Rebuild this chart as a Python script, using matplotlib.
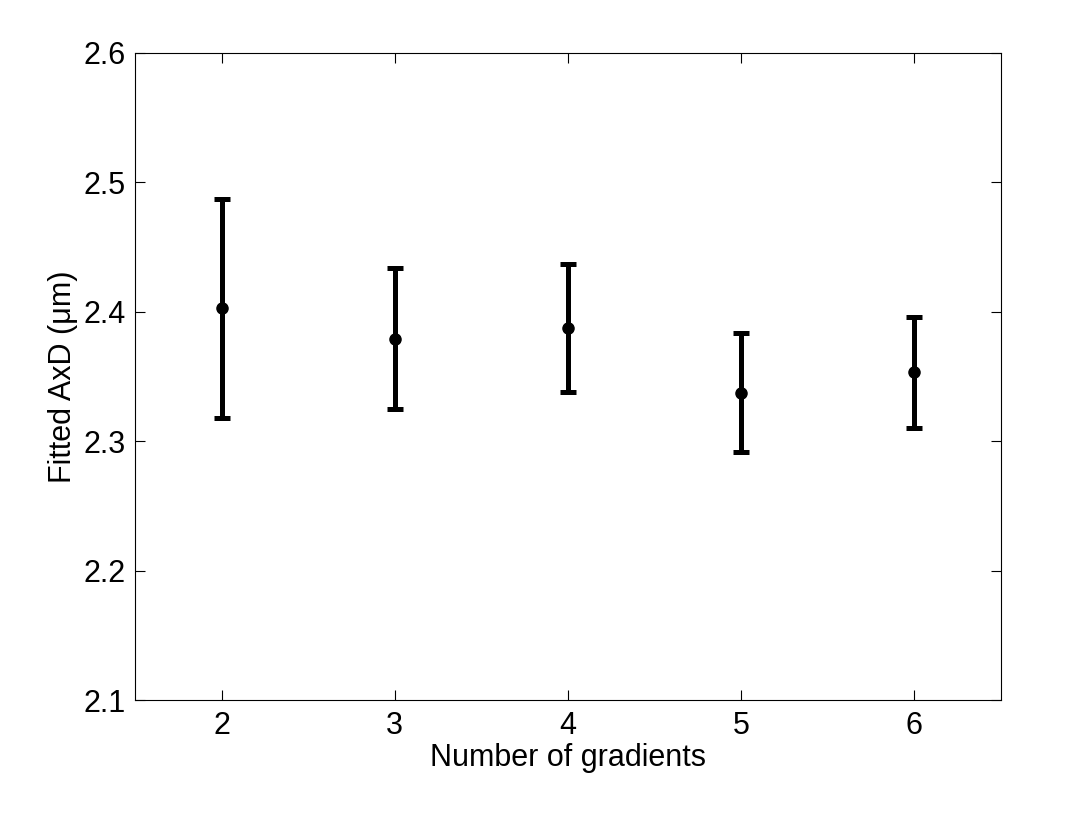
import matplotlib
matplotlib.use("Agg")
import matplotlib.pyplot as plt

plt.rcParams['font.family'] = ['Liberation Sans', 'DejaVu Sans']

gradients = [2, 3, 4, 5, 6]
axd_mean = [2.4027, 2.3789, 2.3872, 2.3370, 2.3533]
axd_upper = [2.4870, 2.4336, 2.4367, 2.3834, 2.3958]
axd_lower = [2.3180, 2.3246, 2.3377, 2.2914, 2.3100]

err_low = [m - l for m, l in zip(axd_mean, axd_lower)]
err_high = [u - m for m, u in zip(axd_mean, axd_upper)]

fig = plt.figure(figsize=(10.77, 8.15), dpi=100)
ax = fig.add_axes([0.1253, 0.1411, 0.8041, 0.7939])
ax.errorbar(gradients, axd_mean, yerr=[err_low, err_high], fmt='o', color='black',
            ecolor='black', elinewidth=3.6, capsize=5.5, capthick=3.6, markersize=8)
ax.set_xlim(1.5, 6.5)
ax.set_ylim(2.1, 2.6)
ax.set_xticks(gradients)
ax.set_yticks([2.1, 2.2, 2.3, 2.4, 2.5, 2.6])
ax.set_yticklabels(['2.1', '2.2', '2.3', '2.4', '2.5', '2.6'])
ax.tick_params(direction='in', top=True, right=True, labelsize=22, length=7, width=0.8)
ax.tick_params(axis='x', pad=8)
ax.tick_params(axis='y', pad=6.5)
for s in ax.spines.values():
    s.set_linewidth(0.8)
ax.set_xlabel('Number of gradients', fontsize=22, labelpad=1)
ax.set_ylabel('Fitted AxD (\u03bcm)', fontsize=22, labelpad=4)
fig.savefig('out.png', dpi=100)
